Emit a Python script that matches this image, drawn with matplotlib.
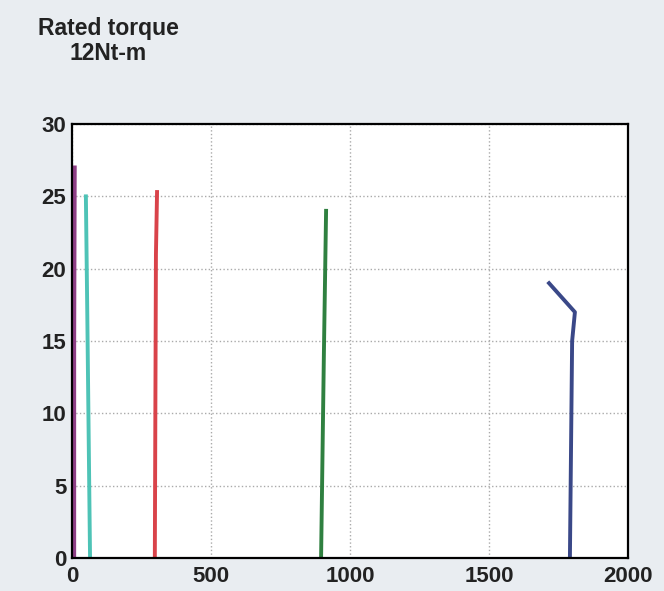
import matplotlib.pyplot as plt

plt.rcParams['font.family'] = ['Liberation Sans', 'DejaVu Sans']

# speed (x) vs torque (y) curves
purple_x = [8, 8, 10]
purple_y = [0, 15, 27]
cyan_x = [65, 55, 50]
cyan_y = [0, 17, 25]
red_x = [298, 302, 306]
red_y = [0, 21, 25.3]
green_x = [896, 906, 914]
green_y = [0, 14, 24]
blue_x = [1791, 1799, 1809, 1716]
blue_y = [0, 15, 17, 19]

xticks = [0, 500, 1000, 1500, 2000]
yticks = [0, 5, 10, 15, 20, 25, 30]

fig = plt.figure(figsize=(6.64, 5.91), dpi=100, facecolor='#e9edf1')
ax = fig.add_axes([0.1084, 0.0558, 0.8374, 0.7343])
ax.set_facecolor('white')

ax.plot(purple_x, purple_y, color='#8e3f86', lw=2.8)
ax.plot(cyan_x, cyan_y, color='#4ec3b6', lw=2.8)
ax.plot(red_x, red_y, color='#d9434a', lw=2.8)
ax.plot(green_x, green_y, color='#2f8040', lw=2.8)
ax.plot(blue_x, blue_y, color='#3a4888', lw=2.8)

ax.set_xlim(0, 2000)
ax.set_ylim(0, 30)
ax.set_xticks(xticks)
ax.set_yticks(yticks)
ax.grid(True, linestyle=':', color='#aaaaaa', lw=1)
ax.tick_params(length=0, labelsize=16, colors='#222222')
ax.tick_params(axis='x', pad=6)
ax.tick_params(axis='y', pad=4)
for lab in ax.get_xticklabels() + ax.get_yticklabels():
    lab.set_fontweight('bold')
for s in ax.spines.values():
    s.set_linewidth(1.6)
    s.set_color('black')

fig.text(0.163, 0.972, 'Rated torque\n12Nt-m', ha='center', va='top',
         fontsize=16.5, fontweight='bold', linespacing=1.12, color='#222222')

fig.savefig('out.png', dpi=100, facecolor=fig.get_facecolor())
